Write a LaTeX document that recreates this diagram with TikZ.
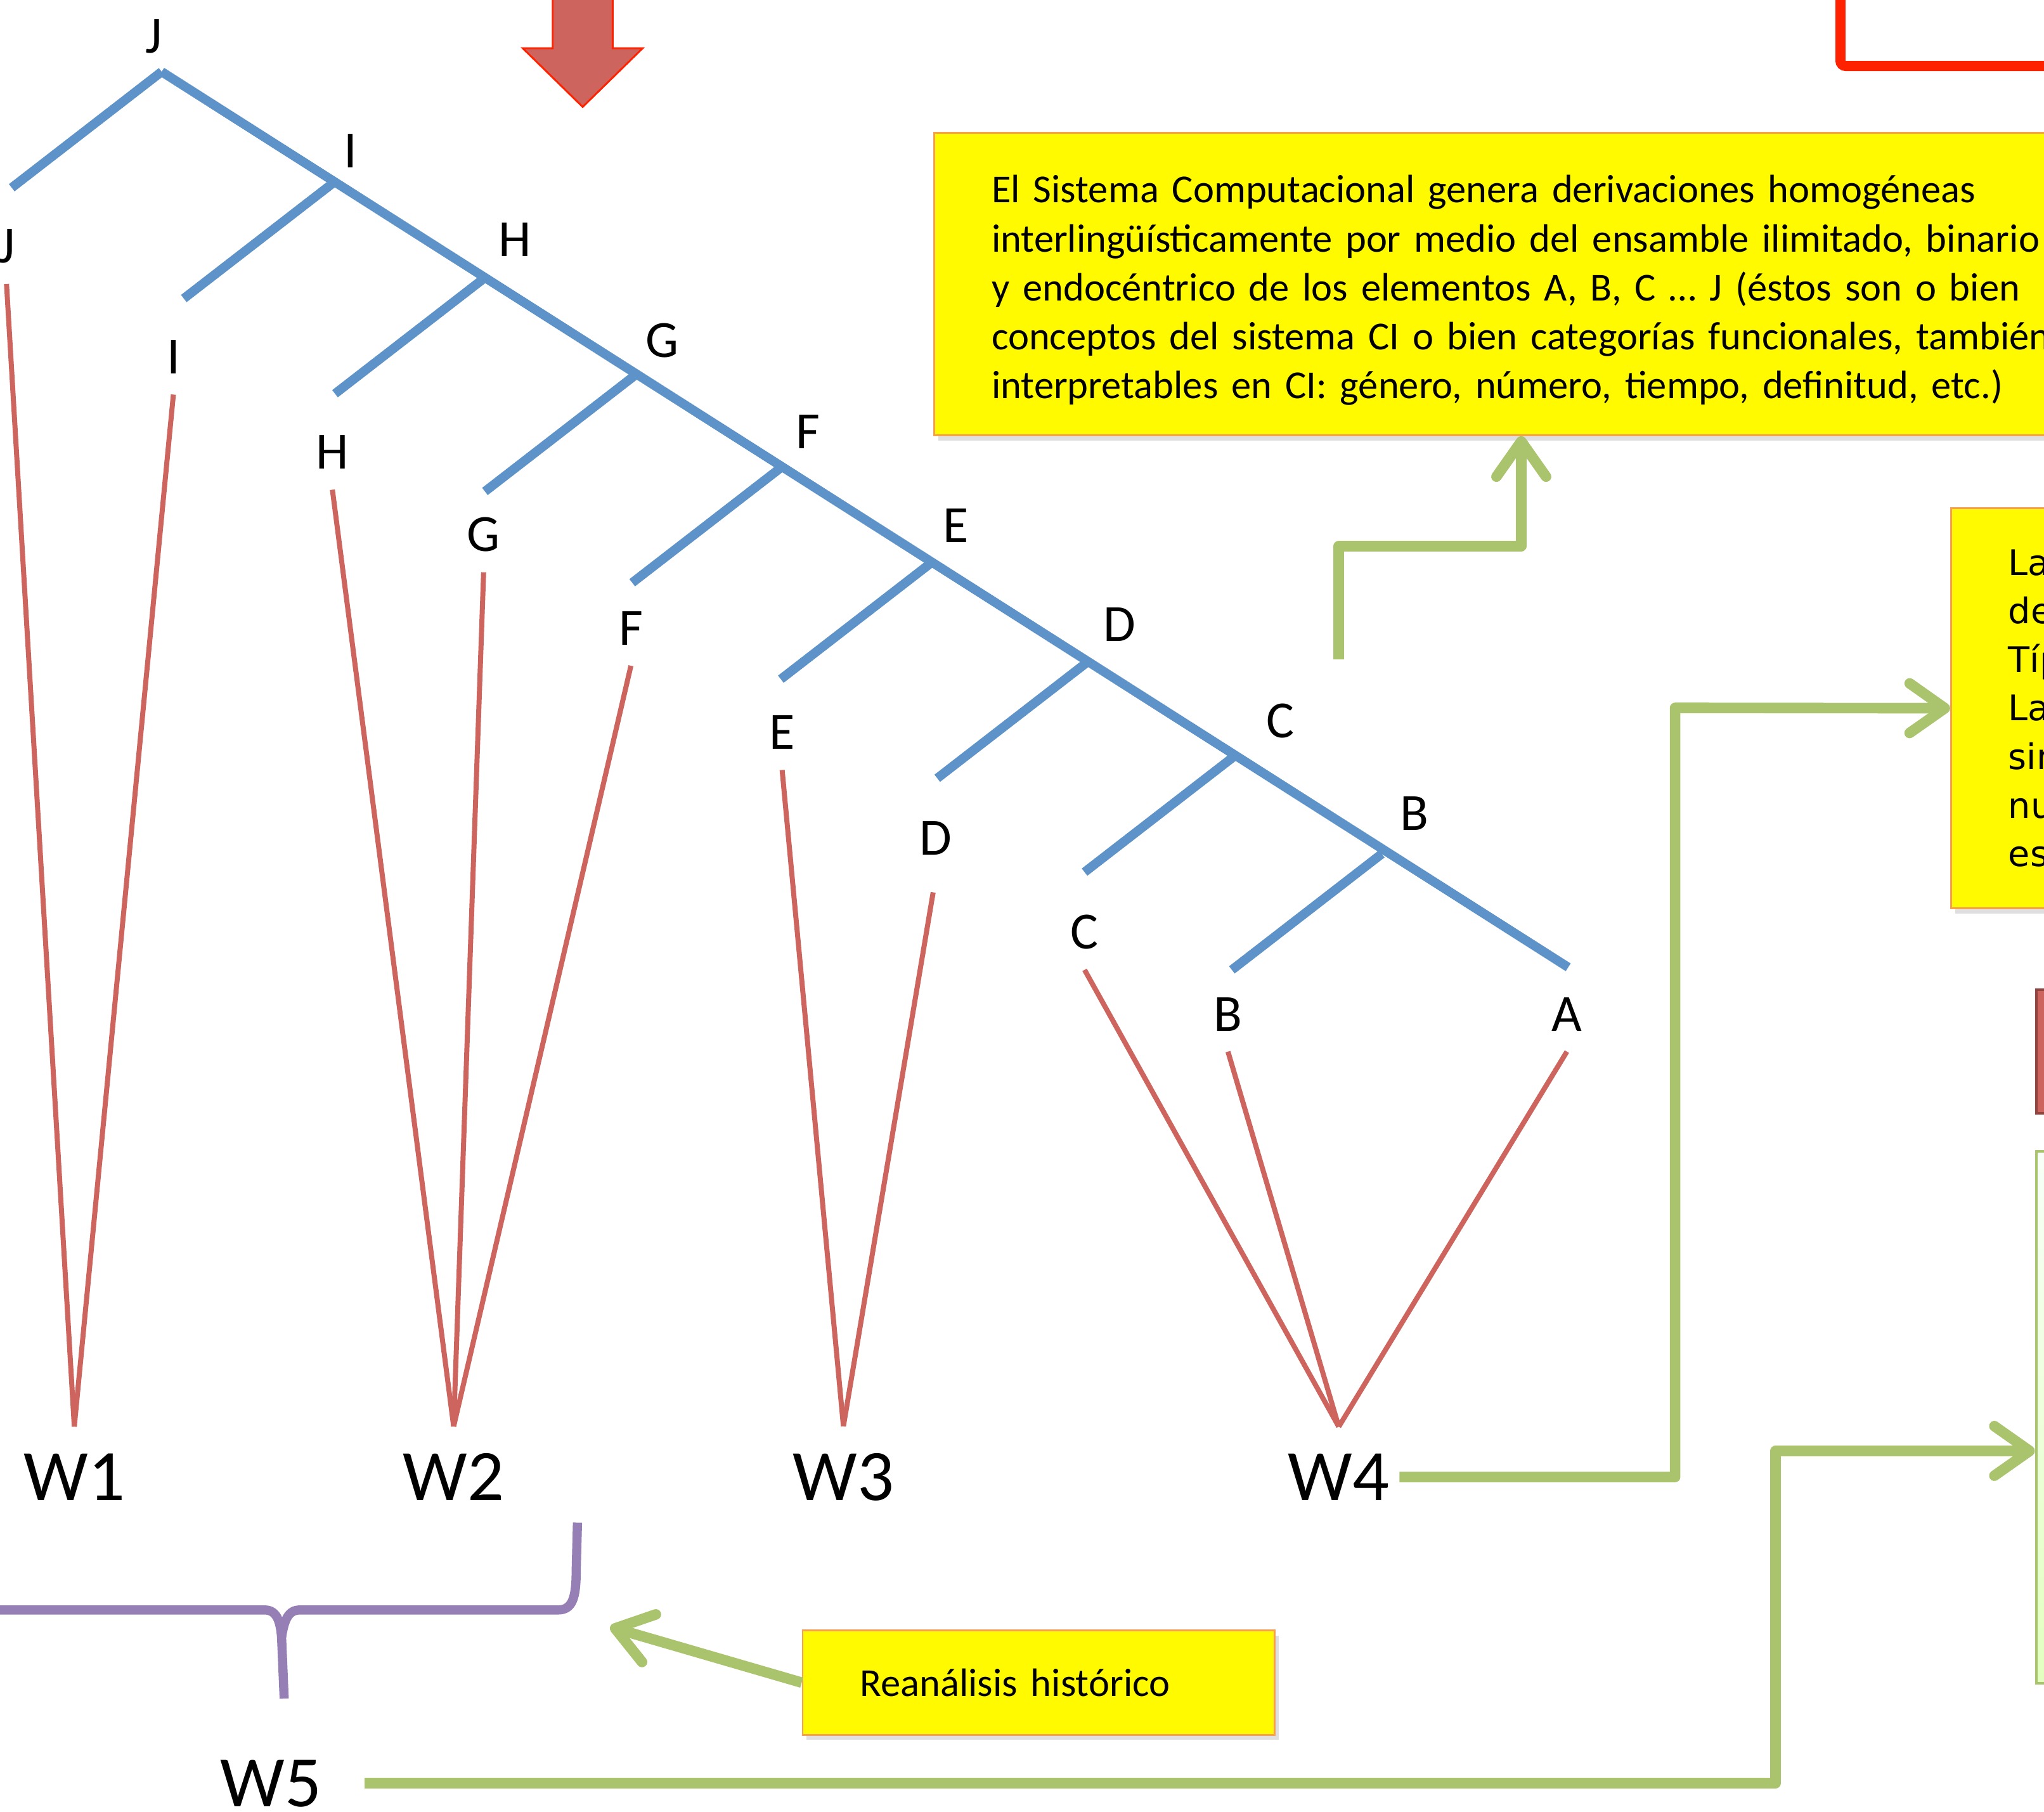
\documentclass[tikz,border=0pt]{standalone}
\usepackage{fontspec}
\setmainfont{Carlito}
\newfontfamily\notefont{DejaVu Sans}
\usetikzlibrary{arrows.meta,shadows}

\definecolor{treeblue}{RGB}{94,147,201}
\definecolor{leafred}{RGB}{205,100,93}
\definecolor{flowgreen}{RGB}{169,196,108}
\definecolor{bracepurple}{RGB}{149,127,180}
\definecolor{noteyellow}{RGB}{255,250,0}
\definecolor{noteedge}{RGB}{247,160,80}
\definecolor{alertred}{RGB}{255,34,0}

\tikzset{
  branch/.style={treeblue, line width=2pt},
  link/.style={leafred, line width=1.1pt},
  lbl/.style={font=\fontsize{11.4}{13}\selectfont, inner sep=4.3pt},
  word/.style={font=\fontsize{15.8}{19}\selectfont, inner xsep=2pt, inner ysep=5.7pt},
  flow/.style={flowgreen, line width=2.3pt, line join=round,
    -{Straight Barb[length=0.27cm,width=0.38cm,round]}},
  note/.style={draw=noteedge, fill=noteyellow, line width=0.4pt, align=left,
    inner xsep=0.44cm, font=\fontsize{8.65}{10.67}\selectfont,
    drop shadow={opacity=0.25, shadow xshift=0.03cm, shadow yshift=-0.04cm}},
}

\begin{document}
\begin{tikzpicture}[x=0.01cm, y=-0.01cm]
  \useasboundingbox (0,0) rectangle (1568,1390);
  \clip (0,0) rectangle (1568,1390);

  \def \Spine {
    J/124/55/118/28,
    I/256/140/269/116,
    H/372/213/395/184,
    G/487/288/508/261,
    F/600/358/620/331,
    E/714/432/733/403,
    D/834/508/859/479,
    C/947/580/982/553,
    B/1060/655/1085/624}
  \def \Leaves {
    J/5/189/W1/0,
    I/133/274/W1/0,
    H/255/347/W2/0,
    G/371/410/W2/0,
    F/484/482/W2/0,
    E/600/562/W3/0,
    D/718/643/W3/0.13,
    C/832/715/W4/0,
    B/942/778/W4/0,
    A/1202/778/W4/0}
  \def \Words {
    W1/57/1133,
    W2/348/1133,
    W3/647/1133,
    W4/1027/1133,
    W5/208/1368}

  % tree
  \coordinate (pA) at (1203,742);
  \foreach \n / \x / \y / \lx / \ly in \Spine {
    \coordinate (p\n) at (\x, \y);
    \node[lbl] (t\n) at (\lx, \ly) {\n};
    \draw[branch] (p\n) -- ++(-115,89);
  }
  \draw[branch] (pJ) -- (pA);

  \foreach \n / \x / \y in \Words {
    \node[word] (\n) at (\x, \y) {\n};
  }
  \foreach \n / \x / \y / \w / \s in \Leaves {
    \node[lbl] (l\n) at (\x, \y) {\n};
    \draw[link, shorten <=\s cm] (l\n.south) -- (\w.north);
  }

  % brace
  \draw[bracepurple, line width=2pt, line join=round]
    (-10,1235) -- (203,1235) .. controls (212,1235) and (215,1243) .. (216,1256) -- (218,1303);
  \draw[bracepurple, line width=2pt, line join=round]
    (216,1256) .. controls (218,1243) and (221,1235) .. (230,1235) -- (428,1235)
    .. controls (439,1235) and (442,1226) .. (442,1205) -- (443,1168);

  % red arrow and frame
  \fill[leafred, draw=alertred, line width=0.4pt]
    (424,-10) -- (424,37) -- (401,37) -- (447,82) -- (493,37) -- (470,37) -- (470,-10) -- cycle;
  \node[draw=alertred, line width=2.2pt, rounded corners=0.04cm, anchor=south west,
    minimum width=3cm, minimum height=1.2cm] (frame) at (1408,54.5) {};

  % boxes
  \node[note, anchor=north west, text width=9.96cm, minimum height=2.32cm] (concepts) at (716,101)
    {\rule{0pt}{8.8pt}El Sistema Computacional genera derivaciones homogéneas\\
     interlingüísticamente por medio del ensamble ilimitado, binario\\
     y endocéntrico de los elementos A, B, C … J (éstos son o bien\\
     conceptos del sistema CI o bien categorías funcionales, también\\
     interpretables en CI: género, número, tiempo, definitud, etc.)};
  \node[note, font=\notefont\fontsize{7.7}{10.6}\selectfont, anchor=north west,
    text width=2cm, minimum height=3.07cm] (typology) at (1496,389)
    {Las\\de\\Típ\\Las\\sin\\nu\\est};
  \node[note, anchor=north west, text width=2.74cm, minimum height=0.8cm] (reanalysis) at (615,1250)
    {Reanálisis histórico};
  \node[fill=leafred, draw=leafred!70!black, line width=0.6pt, anchor=north west,
    minimum width=1cm, minimum height=0.95cm] (redbox) at (1561,758) {};
  \node[draw=flowgreen, line width=0.6pt, top color=green!3, bottom color=green!45!yellow!25,
    anchor=north west, minimum width=1cm, minimum height=4.08cm] (greenbox) at (1561,882) {};

  % arrows
  \coordinate (fromD) at (1027,506);
  \coordinate (bend1) at (1167,419);
  \coordinate (bend4) at (1285,543);
  \coordinate (bend5) at (1362,1113);
  \coordinate (reTip) at (468,1248);
  \draw[flow] (fromD) |- (bend1) -- (bend1 |- concepts.south);
  \draw[flow] (W4.east) -| (bend4) -- (typology.west);
  \draw[flow, shorten <=0.25cm] (W5.east) -| (bend5) -- (bend5 -| greenbox.west);
  \draw[flow] (reanalysis.west) -- (reTip);
\end{tikzpicture}
\end{document}
